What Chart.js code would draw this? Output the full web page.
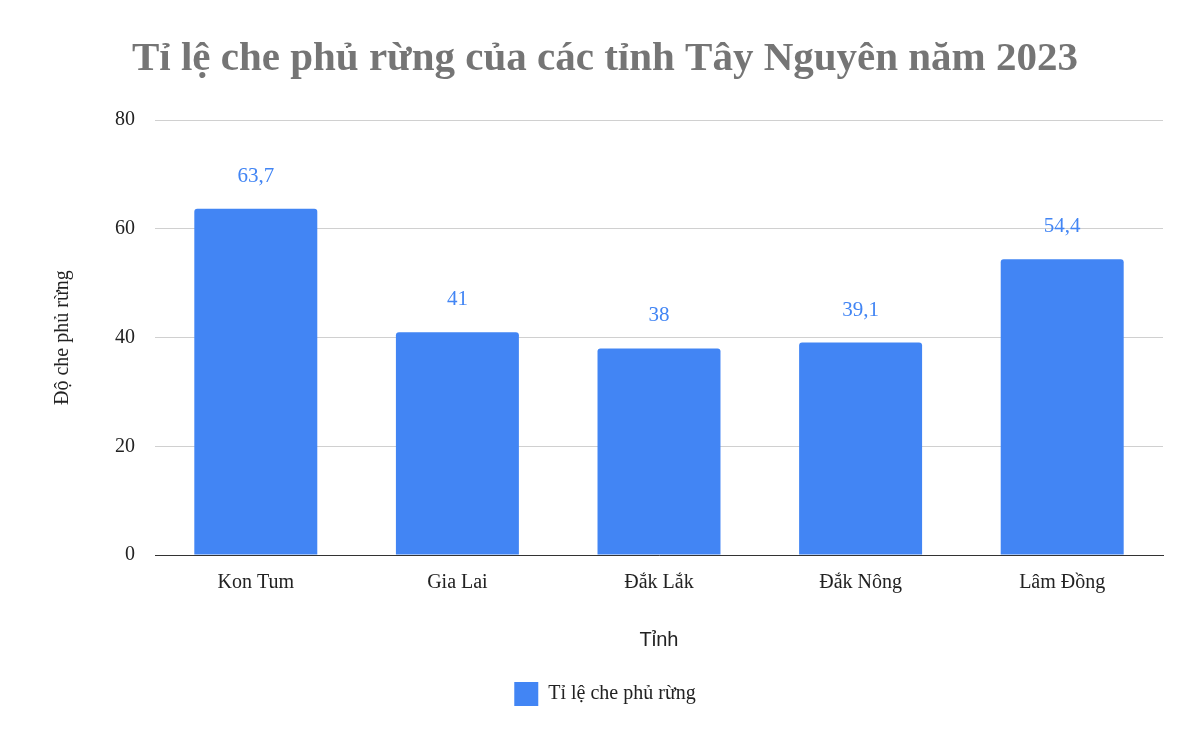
<!DOCTYPE html>
<html><head><meta charset="utf-8">
<script src="https://cdn.jsdelivr.net/npm/chart.js@4"></script>
<style>html,body{margin:0;padding:0;background:#fff}#w{width:1200px;height:742px}</style>
</head><body><div id="w"><canvas id="c"></canvas></div>
<script>
const categories = ["Kon Tum","Gia Lai","Đắk Lắk","Đắk Nông","Lâm Đồng"];
const values = [63.7, 41, 38, 39.1, 54.4];
const valueLabels = ["63,7","41","38","39,1","54,4"];
const seriesName = "Tỉ lệ che phủ rừng";
const SERIF = "'Liberation Serif','DejaVu Serif',serif";
const labelPlugin = {
  id:'vl',
  afterDatasetsDraw(chart){
    const ctx = chart.ctx, meta = chart.getDatasetMeta(0);
    ctx.save();
    ctx.font = "21px " + SERIF; ctx.fillStyle = "#4285f4";
    ctx.textAlign = "center"; ctx.textBaseline = "bottom";
    meta.data.forEach((b,i)=>ctx.fillText(valueLabels[i], b.x, b.y - 22));
    ctx.restore();
  }
};
new Chart(document.getElementById('c'), {
  type:'bar',
  data:{labels:categories, datasets:[{label:seriesName, data:values, backgroundColor:'#4285f4', categoryPercentage:0.61, barPercentage:1, borderRadius:3}]},
  options:{
    responsive:true, maintainAspectRatio:false, animation:false,
    layout:{padding:{left:47,right:37,top:20,bottom:26}},
    plugins:{
      title:{display:true, text:"Tỉ lệ che phủ rừng của các tỉnh Tây Nguyên năm 2023", color:'#757575', font:{family:SERIF, size:41, weight:'bold'}, padding:{top:15,bottom:36}},
      legend:{position:'bottom', labels:{color:'#222', font:{family:SERIF, size:20}, boxWidth:24, boxHeight:24, padding:20}},
      tooltip:{enabled:false}
    },
    scales:{
      x:{grid:{display:false}, border:{color:'#333'}, ticks:{color:'#222', font:{family:SERIF, size:20}, padding:8},
         title:{display:true, text:"Tỉnh", color:'#222', font:{family:"'Liberation Sans',sans-serif", size:20}, padding:{top:25,bottom:10}}},
      y:{min:0, max:80, ticks:{stepSize:20, color:'#222', font:{family:SERIF, size:20}, padding:20}, border:{display:false}, grid:{color:'#d0d0d0', drawTicks:false},
         title:{display:true, text:"Độ che phủ rừng", color:'#222', font:{family:SERIF, size:20}, padding:{bottom:20}}}
    }
  },
  plugins:[labelPlugin]
});
</script></body></html>
